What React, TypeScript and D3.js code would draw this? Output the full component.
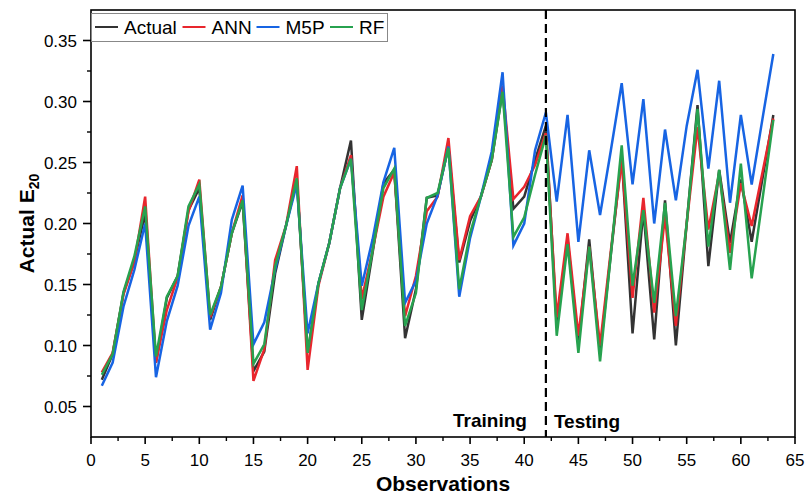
import React from "react";
import * as d3 from "d3";

const observations = d3.range(1, 64);

const actual = [
  0.072, 0.093, 0.143, 0.170, 0.208, 0.086, 0.139, 0.157, 0.211, 0.229,
  0.121, 0.148, 0.192, 0.218, 0.079, 0.095, 0.159, 0.198, 0.236, 0.094,
  0.151, 0.184, 0.229, 0.268, 0.121, 0.176, 0.233, 0.244, 0.106, 0.146,
  0.221, 0.223, 0.263, 0.168, 0.202, 0.222, 0.252, 0.309, 0.212, 0.222,
  0.252, 0.280, 0.116, 0.187, 0.102, 0.187, 0.094, 0.175, 0.255, 0.110,
  0.211, 0.105, 0.219, 0.100, 0.200, 0.297, 0.165, 0.244, 0.184, 0.236,
  0.185, 0.237, 0.289,
];

const ann = [
  0.078, 0.094, 0.142, 0.168, 0.222, 0.086, 0.129, 0.156, 0.210, 0.236,
  0.123, 0.148, 0.192, 0.223, 0.071, 0.097, 0.170, 0.198, 0.247, 0.080,
  0.149, 0.184, 0.229, 0.256, 0.138, 0.178, 0.222, 0.242, 0.124, 0.157,
  0.210, 0.222, 0.270, 0.170, 0.206, 0.222, 0.252, 0.313, 0.220, 0.230,
  0.248, 0.274, 0.123, 0.192, 0.108, 0.181, 0.100, 0.178, 0.252, 0.139,
  0.221, 0.127, 0.206, 0.116, 0.200, 0.279, 0.195, 0.241, 0.176, 0.233,
  0.198, 0.242, 0.286,
];

const m5p = [
  0.067, 0.086, 0.132, 0.162, 0.200, 0.074, 0.120, 0.149, 0.198, 0.222,
  0.113, 0.143, 0.203, 0.231, 0.101, 0.119, 0.162, 0.198, 0.232, 0.110,
  0.151, 0.184, 0.229, 0.253, 0.149, 0.187, 0.234, 0.262, 0.135, 0.153,
  0.200, 0.223, 0.263, 0.140, 0.188, 0.222, 0.259, 0.324, 0.182, 0.200,
  0.260, 0.291, 0.218, 0.289, 0.185, 0.260, 0.207, 0.260, 0.315, 0.232,
  0.302, 0.200, 0.277, 0.219, 0.280, 0.326, 0.245, 0.317, 0.217, 0.289,
  0.232, 0.286, 0.339,
];

const rf = [
  0.076, 0.093, 0.144, 0.173, 0.214, 0.091, 0.140, 0.157, 0.214, 0.232,
  0.125, 0.148, 0.192, 0.219, 0.085, 0.101, 0.165, 0.198, 0.237, 0.094,
  0.151, 0.184, 0.229, 0.253, 0.129, 0.178, 0.229, 0.245, 0.116, 0.143,
  0.221, 0.225, 0.262, 0.146, 0.192, 0.222, 0.252, 0.308, 0.189, 0.205,
  0.240, 0.272, 0.108, 0.183, 0.094, 0.181, 0.087, 0.175, 0.264, 0.149,
  0.211, 0.135, 0.217, 0.124, 0.200, 0.294, 0.181, 0.244, 0.162, 0.249,
  0.155, 0.220, 0.285,
];

const seriesNames = ["Actual", "ANN", "M5P", "RF"];
const seriesColors = ["#333333", "#e8262d", "#1764e3", "#27a24f"];
const seriesValues = [actual, ann, m5p, rf];

const xTicks = d3.range(0, 66, 5);
const xMinor = d3.range(2.5, 65, 5);
const yTicks = [0.05, 0.1, 0.15, 0.2, 0.25, 0.3, 0.35];
const yMinor = [0.075, 0.125, 0.175, 0.225, 0.275, 0.325];
const splitAt = 42;

export default function App() {
  const W = 807, H = 495;
  const left = 91, right = 795, top = 10, bottom = 437;
  const x = d3.scaleLinear().domain([0, 65]).range([left, right]);
  const y = d3.scaleLinear().domain([0.025, 0.375]).range([bottom, top]);
  const font = "'Liberation Sans', Arial, sans-serif";

  const line = (vals: number[]) =>
    d3.line<number>().x((_, i) => x(observations[i])).y((v) => y(v))(vals) || "";

  const legendX = [95, 182.5, 256.5, 330];

  return (
    <svg width={W} height={H} style={{ position: "absolute", left: 0, top: 0, background: "#fff" }}
      fontFamily={font}>
      <rect x={0} y={0} width={W} height={H} fill="#fff" />
      {seriesValues.map((vals, k) => (
        <path key={k} d={line(vals)} fill="none" stroke={seriesColors[k]} strokeWidth={2.5}
          strokeLinejoin="miter" strokeMiterlimit={4} />
      ))}
      {/* split line */}
      <line x1={x(splitAt)} x2={x(splitAt)} y1={top} y2={bottom} stroke="#000" strokeWidth={2.2}
        strokeDasharray="9,5" />
      <text x={x(splitAt) - 19} y={427} textAnchor="end" fontSize={19} fontWeight="bold">Training</text>
      <text x={x(splitAt) + 8} y={428} textAnchor="start" fontSize={19} fontWeight="bold">Testing</text>
      {/* frame */}
      <rect x={left} y={top} width={right - left} height={bottom - top} fill="none" stroke="#000" strokeWidth={1.6} />
      {/* x ticks */}
      {xTicks.map((t) => (
        <g key={"xt" + t}>
          <line x1={x(t)} x2={x(t)} y1={bottom} y2={bottom + 7} stroke="#000" strokeWidth={1.6} />
          <text x={x(t)} y={466} textAnchor="middle" fontSize={17}>{t}</text>
        </g>
      ))}
      {xMinor.map((t) => (
        <line key={"xm" + t} x1={x(t)} x2={x(t)} y1={bottom} y2={bottom + 4} stroke="#000" strokeWidth={1.4} />
      ))}
      {/* y ticks */}
      {yTicks.map((t) => (
        <g key={"yt" + t}>
          <line x1={left - 8} x2={left} y1={y(t)} y2={y(t)} stroke="#000" strokeWidth={1.6} />
          <text x={77} y={y(t)} dy="0.36em" textAnchor="end" fontSize={17}>{t.toFixed(2)}</text>
        </g>
      ))}
      {yMinor.map((t) => (
        <line key={"ym" + t} x1={left - 4} x2={left} y1={y(t)} y2={y(t)} stroke="#000" strokeWidth={1.4} />
      ))}
      {/* axis titles */}
      <text x={(left + right) / 2} y={491} textAnchor="middle" fontSize={21} fontWeight="bold">Observations</text>
      <text transform={`translate(34,${(top + bottom) / 2}) rotate(-90)`} textAnchor="middle" fontSize={21} fontWeight="bold">
        Actual E<tspan fontSize={14} dy="5">20</tspan>
      </text>
      {/* legend */}
      <rect x={91.5} y={13.5} width={296} height={28} fill="#fff" stroke="#888" strokeWidth={1} />
      {seriesNames.map((n, k) => (
        <g key={n}>
          <line x1={legendX[k]} x2={legendX[k] + 23} y1={27} y2={27} stroke={seriesColors[k]} strokeWidth={2} />
          <text x={legendX[k] + 29} y={34} fontSize={19}>{n}</text>
        </g>
      ))}
    </svg>
  );
}
